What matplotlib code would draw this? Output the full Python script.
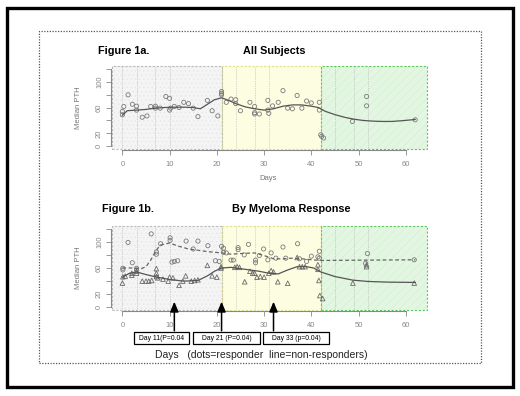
import matplotlib
matplotlib.use("Agg")
import matplotlib.pyplot as plt
from matplotlib.patches import Rectangle

plt.rcParams['font.family'] = ['Liberation Sans', 'DejaVu Sans']
plt.rcParams['hatch.linewidth'] = 0.3

# ---- data ----
# Figure 1a: all subjects
top_days = [0, 0, 0.3, 1.2, 2.1, 3, 3, 4.2, 5.2, 6, 7, 7, 8, 9.2, 10, 10, 10.2, 11, 12, 13,
            14, 15, 16, 18, 19, 20.2, 21, 21, 21, 22, 23, 24, 24, 25, 27, 28, 28, 28, 29, 30.8,
            30.8, 31, 31.8, 33, 34, 35, 36, 37, 38, 39, 40, 41.7, 41.7, 42, 42.2, 42.6, 48.7, 51.7, 51.7, 62]
top_pth = [48.7, 54, 61.5, 79.5, 65, 62, 56, 45, 47, 61.5, 62, 59, 59, 77, 74, 56, 59, 61.5, 60, 68,
           66, 59, 46, 71, 55, 47, 84.6, 82, 79.5, 68, 73, 72, 66, 55, 68, 61.5, 52, 50, 50, 71,
           56, 51, 62.5, 68, 86, 59, 58, 78.5, 59, 70, 67, 68, 56, 18, 15.4, 13, 38.5, 77, 62.5, 41]
top_curve_days = [0, 1, 3, 5, 7, 9, 11, 13, 15, 16.5, 18, 19.5, 21, 22.5, 24, 26, 28, 30, 32, 34,
                  36, 38, 40, 41.5, 43, 45, 47, 49, 51, 53, 55, 57, 59, 62]
top_curve_pth = [48, 55, 56, 57, 59, 60, 60.5, 60.5, 60, 58, 65, 72, 75, 71, 66, 61, 58, 56, 58, 62,
                 64, 64, 62, 60, 54, 49, 45, 42, 40, 39, 38.5, 38.5, 39.5, 41.5]

# Figure 1b: responders (dots) and non-responders (triangles)
resp_days = [0.1, 0.1, 1.2, 2.1, 3, 3, 6.1, 7.2, 7.2, 8.1, 10.1, 10.1, 10.5, 11, 11.7, 13.5, 15, 16,
             18.1, 19.7, 20.5, 21, 21.4, 21.4, 22, 23, 23.5, 24.5, 24.5, 25.8, 26.7, 28.2, 28.2, 29,
             29.9, 30.8, 31.5, 32.5, 34, 34.6, 37.1, 37.5, 39, 40, 41.4, 41.7, 41.7, 51.9, 51.5, 61.8]
resp_pth = [59.6, 57, 99, 68, 59.6, 57, 112, 84.4, 81, 97, 106, 102, 69, 70, 71, 101, 89, 101,
            94, 71, 70, 93, 90, 84, 83, 72, 72, 88, 91, 80, 96, 68, 72, 79,
            89, 72.5, 83, 75, 92, 75, 97, 74, 70, 78, 77, 85.5, 75, 82, 67, 72.5]
nonr_days = [0, 0.1, 0.6, 2, 2, 3, 3, 4.2, 5, 5.6, 6.2, 7.2, 7.2, 7.2, 7.5, 8.6, 9.7, 10, 10.7, 12,
             12.8, 13.4, 14.6, 15.3, 16, 18, 19, 20, 20.9, 20.9, 23.8, 24.3, 24.8, 25.9, 27, 27.6,
             28, 28.5, 29.2, 30, 31, 31.5, 32, 32.9, 35, 37, 37.5, 38.1, 38.7, 41.4, 41.4, 41.6,
             41.8, 42.4, 48.8, 51.7, 51.7, 61.8]
nonr_pth = [37, 46.6, 47.6, 52, 49, 55, 52, 40, 40, 40, 41, 59, 52, 47, 45, 43, 40, 46, 45, 33.6,
            40, 48, 40, 41, 42, 64, 48, 46, 62, 60, 61, 62, 61, 39, 55, 52,
            52, 46, 47, 46, 52, 56, 54, 39, 36.8, 76, 62, 62, 62, 65, 58, 41,
            18, 13.5, 37, 65, 62, 37]
resp_curve_days = [0, 2, 4, 5, 6, 7, 8, 10, 12, 14, 16, 18, 21, 23, 25, 28, 30, 32, 34, 36, 38, 41.7, 62]
resp_curve_pth = [60, 60, 59, 62, 72, 85, 95, 98, 93, 89, 87, 85, 83, 81, 82, 83, 79, 74, 74, 75, 74, 71.5, 72.5]
nonr_curve_days = [0, 1.5, 3, 5, 7, 10, 13, 16, 18, 19.5, 21, 23, 25, 27, 29, 31, 33, 35, 37, 39,
                   40.5, 42, 45, 48.8, 52, 56, 62]
nonr_curve_pth = [46, 52, 54, 50, 46.5, 42.5, 40, 41, 48, 55, 60, 61, 59, 57, 55, 52, 51, 57, 62, 62,
                  60, 54, 47, 41.5, 39.5, 38.5, 38]

visit_days = [0, 3, 7, 10, 21, 24, 28, 31, 42, 45, 49, 52]
# (start, end, fill, border, hatch, hatch colour)
phases = [(-2.2, 21, '#f4f4f4', '#bbbbbb', '....', '#e2e2e2'),
          (21, 42, '#fdfde2', '#e0e08a', None, None),
          (42, 64.5, '#e3f6e1', '#62c462', '////', '#cdeccb')]

arrow_days = [11, 21, 32]
box_labels = ['Day 11(P=0.04', 'Day 21 (P=0.04)', 'Day 33 (p=0.04)']
box_px = [(134, 189), (193, 260), (263, 329)]

W, H = 520, 396
fig = plt.figure(figsize=(W / 100, H / 100), dpi=100)


def fx(x):
    return x / W


def fy(y):
    return 1 - y / H


def make_axes(top, bottom):
    ax = fig.add_axes([fx(112), fy(bottom), fx(427) - fx(112), fy(top) - fy(bottom)])
    ax.set_xlim(-2.2, 64.5)
    ax.set_ylim(-4, 124)
    for x0, x1, fc, ec, hatch, hc in phases:
        ax.axvspan(x0, x1, facecolor=fc, lw=0, zorder=0)
        if hatch:
            ax.axvspan(x0, x1, facecolor='none', edgecolor=hc, hatch=hatch, lw=0, zorder=0.5)
        ax.add_patch(Rectangle((x0, -4), x1 - x0, 128, fill=False, edgecolor=ec, lw=0.8,
                               ls=(0, (2, 1.5)), zorder=1, clip_on=False))
    for d in visit_days:
        ax.axvline(d, color='#b0b0b0', lw=0.5, ls=(0, (1, 1.5)), zorder=1)
    for s in ['top', 'right']:
        ax.spines[s].set_visible(False)
    ax.spines['left'].set_bounds(0, 120)
    ax.spines['bottom'].set_bounds(0, 60)
    ax.spines['left'].set_color('#888888')
    ax.spines['bottom'].set_color('#888888')
    ax.spines['left'].set_position(('outward', 1))
    ax.spines['bottom'].set_position(('outward', 1))
    ax.set_xticks(range(0, 61, 10))
    ax.set_yticks(range(0, 121, 20))
    ax.set_yticklabels(['0', '20', '', '60', '', '100', ''], rotation=90, va='center')
    ax.tick_params(colors='#888888', labelsize=5.5, length=3.5, width=0.6, pad=2)
    ax.tick_params(axis='x', pad=4)
    return ax


# ---- Figure 1a ----
ax1 = make_axes(66, 149)
ax1.scatter(top_days, top_pth, s=9, facecolors='none', edgecolors='#7a7a7a', lw=0.6, zorder=3)
ax1.plot(top_curve_days, top_curve_pth, color='#555555', lw=0.9, zorder=4)

# ---- Figure 1b ----
ax2 = make_axes(226, 310)
ax2.scatter(resp_days, resp_pth, s=9, facecolors='none', edgecolors='#7a7a7a', lw=0.6, zorder=3)
ax2.scatter(nonr_days, nonr_pth, s=11, marker='^', facecolors='none', edgecolors='#6a6a6a',
            lw=0.6, zorder=3)
ax2.plot(resp_curve_days, resp_curve_pth, color='#666666', lw=0.9, ls=(0, (3, 2)), zorder=4)
ax2.plot(nonr_curve_days, nonr_curve_pth, color='#555555', lw=0.9, zorder=4)

for d in arrow_days:
    ax2.annotate('', xy=(d, 13), xytext=(d, -40), annotation_clip=False,
                 arrowprops=dict(arrowstyle='-|>,head_length=0.6,head_width=0.25',
                                 color='black', lw=1.1))

for (x0, x1), lab in zip(box_px, box_labels):
    fig.patches.append(Rectangle((fx(x0), fy(344)), fx(x1) - fx(x0), fy(332) - fy(344),
                                 transform=fig.transFigure, facecolor='white',
                                 edgecolor='black', lw=0.9, zorder=5))
    fig.text(fx((x0 + x1) / 2), fy(338), lab, ha='center', va='center', fontsize=4.9,
             zorder=6)

# ---- titles and labels ----
fig.text(fx(98), fy(51), 'Figure 1a.', fontsize=7.8, fontweight='bold', va='center')
fig.text(fx(274), fy(51), 'All Subjects', fontsize=7.8, fontweight='bold', ha='center', va='center')
fig.text(fx(102), fy(209), 'Figure 1b.', fontsize=7.8, fontweight='bold', va='center')
fig.text(fx(291), fy(209), 'By Myeloma Response', fontsize=7.8, fontweight='bold', ha='center',
         va='center')
fig.text(fx(268), fy(179), 'Days', fontsize=5.5, color='#777777', ha='center', va='center')
fig.text(fx(78), fy(108), 'Median PTH', fontsize=5.5, color='#777777', rotation=90,
         ha='center', va='center')
fig.text(fx(78), fy(268), 'Median PTH', fontsize=5.5, color='#777777', rotation=90,
         ha='center', va='center')
fig.text(fx(261), fy(355), 'Days   (dots=responder  line=non-responders)', fontsize=7.5,
         ha='center', va='center', color='#222222')

# ---- frames ----
fig.patches.append(Rectangle((fx(7), fy(387)), fx(513) - fx(7), fy(8) - fy(387),
                             transform=fig.transFigure, fill=False, edgecolor='black', lw=2.4))
fig.patches.append(Rectangle((fx(39), fy(363)), fx(481) - fx(39), fy(31) - fy(363),
                             transform=fig.transFigure, fill=False, edgecolor='#555555', lw=0.9,
                             ls=(0, (1, 1.2))))

fig.savefig('out.png', dpi=100, facecolor='white')
